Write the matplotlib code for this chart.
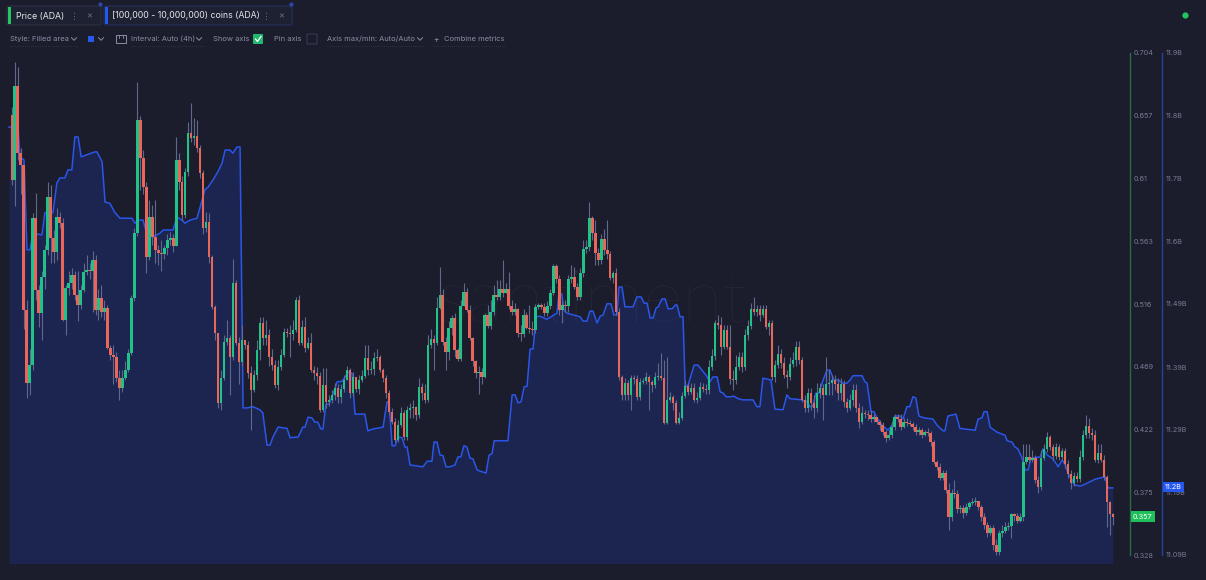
import matplotlib
matplotlib.use('Agg')
import matplotlib.pyplot as plt
import matplotlib.transforms as mtransforms
from matplotlib.patches import FancyBboxPatch
from matplotlib.lines import Line2D
import numpy as np

plt.rcParams['font.family'] = ['Inter', 'DejaVu Sans']

# ---------------- data (ADA 4h candles) ----------------
open0 = 0.6574
close = [
0.6088, 0.6791, 0.6290, 0.6200, 0.5115, 0.4570, 0.4704, 0.5803, 0.5265, 0.5093,
0.5362, 0.5564, 0.5960, 0.5654, 0.5549, 0.5810, 0.5766, 0.5040, 0.5280, 0.5318,
0.5377, 0.5228, 0.5153, 0.5265, 0.5399, 0.5414, 0.5407, 0.5489, 0.5115, 0.5205,
0.5100, 0.5130, 0.4831, 0.4779, 0.4763, 0.4607, 0.4532, 0.4607, 0.4666, 0.4794,
0.5205, 0.5692, 0.6536, 0.6252, 0.6035, 0.5511, 0.5810, 0.5661, 0.5564, 0.5542,
0.5534, 0.5579, 0.5639, 0.5654, 0.5594, 0.6237, 0.6073, 0.5825, 0.6147, 0.6440,
0.6402, 0.6417, 0.6327, 0.6140, 0.5729, 0.5773, 0.5511, 0.5138, 0.4944, 0.4420,
0.4607, 0.4876, 0.4906, 0.4763, 0.5318, 0.4869, 0.4726, 0.4891, 0.4854, 0.4644,
0.4517, 0.4629, 0.4816, 0.5018, 0.4906, 0.4929, 0.4763, 0.4704, 0.4555, 0.4688,
0.4779, 0.4951, 0.4944, 0.4936, 0.4966, 0.5190, 0.4869, 0.4988, 0.4831, 0.4869,
0.4666, 0.4644, 0.4621, 0.4367, 0.4555, 0.4427, 0.4442, 0.4480, 0.4532, 0.4464,
0.4525, 0.4592, 0.4666, 0.4495, 0.4614, 0.4525, 0.4592, 0.4621, 0.4756, 0.4666,
0.4673, 0.4756, 0.4763, 0.4666, 0.4607, 0.4495, 0.4352, 0.4277, 0.4143, 0.4255,
0.4345, 0.4166, 0.4367, 0.4382, 0.4389, 0.4330, 0.4539, 0.4495, 0.4442, 0.4854,
0.4898, 0.4869, 0.5130, 0.5228, 0.4876, 0.4801, 0.4981, 0.5055, 0.4816, 0.4748,
0.5145, 0.5250, 0.5115, 0.4906, 0.4734, 0.4644, 0.4651, 0.4614, 0.5078, 0.4996,
0.5100, 0.5228, 0.5213, 0.5272, 0.5243, 0.5272, 0.5145, 0.5100, 0.5122, 0.4944,
0.4936, 0.5078, 0.4981, 0.4973, 0.4966, 0.5138, 0.5153, 0.5138, 0.5093, 0.5145,
0.5243, 0.5444, 0.5347, 0.5115, 0.5153, 0.5145, 0.5347, 0.5362, 0.5287, 0.5213,
0.5392, 0.5571, 0.5586, 0.5803, 0.5692, 0.5542, 0.5489, 0.5646, 0.5564, 0.5534,
0.5355, 0.5392, 0.5100, 0.4614, 0.4480, 0.4570, 0.4480, 0.4607, 0.4599, 0.4464,
0.4577, 0.4584, 0.4614, 0.4577, 0.4555, 0.4614, 0.4621, 0.4607, 0.4270, 0.4442,
0.4464, 0.4420, 0.4270, 0.4307, 0.4472, 0.4547, 0.4502, 0.4532, 0.4442, 0.4457,
0.4539, 0.4525, 0.4517, 0.4688, 0.4771, 0.5018, 0.5003, 0.4838, 0.4966, 0.4838,
0.4599, 0.4592, 0.4688, 0.4763, 0.4688, 0.4929, 0.4996, 0.5122, 0.5100, 0.5122,
0.5078, 0.5122, 0.4988, 0.5018, 0.4614, 0.4704, 0.4786, 0.4719, 0.4629, 0.4614,
0.4711, 0.4741, 0.4838, 0.4741, 0.4442, 0.4382, 0.4495, 0.4420, 0.4382, 0.4495,
0.4532, 0.4480, 0.4562, 0.4570, 0.4592, 0.4562, 0.4495, 0.4562, 0.4427, 0.4382,
0.4442, 0.4517, 0.4382, 0.4277, 0.4345, 0.4337, 0.4330, 0.4299, 0.4314, 0.4277,
0.4255, 0.4203, 0.4158, 0.4181, 0.4240, 0.4314, 0.4299, 0.4240, 0.4277, 0.4270,
0.4262, 0.4240, 0.4203, 0.4218, 0.4181, 0.4203, 0.4196, 0.4128, 0.3978, 0.3941,
0.3859, 0.3896, 0.3769, 0.3566, 0.3747, 0.3739, 0.3626, 0.3634, 0.3597, 0.3642,
0.3672, 0.3679, 0.3687, 0.3642, 0.3566, 0.3507, 0.3448, 0.3485, 0.3358, 0.3305,
0.3448, 0.3463, 0.3492, 0.3500, 0.3589, 0.3574, 0.3537, 0.3566, 0.3978, 0.4015,
0.3993, 0.4008, 0.3844, 0.3792, 0.4008, 0.4075, 0.4165, 0.4090, 0.4023, 0.4090,
0.4015, 0.4061, 0.3963, 0.3888, 0.3822, 0.3873, 0.3851, 0.4015, 0.4181, 0.4248,
0.4196, 0.4181, 0.3993, 0.4046, 0.3993, 0.3866, 0.3679, 0.3589, 0.3570,
]
high = [
0.663, 0.697, 0.693, 0.633, 0.620, 0.519, 0.482, 0.584, 0.599, 0.530,
0.541, 0.560, 0.607, 0.605, 0.571, 0.588, 0.585, 0.580, 0.530, 0.541,
0.543, 0.541, 0.541, 0.530, 0.547, 0.553, 0.547, 0.556, 0.553, 0.527,
0.530, 0.519, 0.515, 0.485, 0.485, 0.480, 0.467, 0.467, 0.473, 0.482,
0.523, 0.573, 0.682, 0.657, 0.631, 0.607, 0.594, 0.590, 0.594, 0.560,
0.564, 0.560, 0.568, 0.570, 0.568, 0.641, 0.629, 0.612, 0.618, 0.652,
0.666, 0.655, 0.654, 0.635, 0.616, 0.585, 0.584, 0.553, 0.515, 0.493,
0.467, 0.493, 0.504, 0.493, 0.550, 0.534, 0.491, 0.500, 0.489, 0.488,
0.470, 0.467, 0.489, 0.506, 0.506, 0.504, 0.497, 0.482, 0.474, 0.474,
0.482, 0.498, 0.498, 0.500, 0.504, 0.521, 0.523, 0.504, 0.506, 0.491,
0.494, 0.470, 0.469, 0.465, 0.468, 0.468, 0.448, 0.452, 0.457, 0.456,
0.456, 0.463, 0.470, 0.468, 0.465, 0.457, 0.463, 0.467, 0.485, 0.485,
0.473, 0.480, 0.482, 0.478, 0.468, 0.463, 0.452, 0.438, 0.431, 0.429,
0.439, 0.437, 0.440, 0.442, 0.444, 0.440, 0.461, 0.457, 0.456, 0.493,
0.497, 0.493, 0.521, 0.544, 0.527, 0.491, 0.503, 0.508, 0.509, 0.483,
0.519, 0.532, 0.528, 0.515, 0.491, 0.474, 0.470, 0.468, 0.509, 0.515,
0.519, 0.530, 0.534, 0.534, 0.549, 0.532, 0.540, 0.519, 0.517, 0.513,
0.500, 0.512, 0.510, 0.515, 0.503, 0.516, 0.517, 0.517, 0.517, 0.518,
0.527, 0.546, 0.546, 0.538, 0.519, 0.519, 0.538, 0.545, 0.544, 0.532,
0.543, 0.564, 0.564, 0.592, 0.582, 0.579, 0.558, 0.568, 0.572, 0.579,
0.556, 0.541, 0.543, 0.513, 0.463, 0.461, 0.459, 0.463, 0.463, 0.463,
0.461, 0.461, 0.465, 0.463, 0.459, 0.465, 0.472, 0.479, 0.474, 0.476,
0.450, 0.448, 0.444, 0.435, 0.450, 0.459, 0.457, 0.457, 0.457, 0.450,
0.458, 0.457, 0.456, 0.474, 0.482, 0.504, 0.508, 0.506, 0.500, 0.500,
0.500, 0.467, 0.478, 0.480, 0.480, 0.497, 0.504, 0.517, 0.521, 0.515,
0.515, 0.515, 0.515, 0.504, 0.504, 0.474, 0.485, 0.482, 0.476, 0.467,
0.476, 0.480, 0.488, 0.488, 0.476, 0.448, 0.453, 0.453, 0.448, 0.457,
0.457, 0.456, 0.476, 0.467, 0.463, 0.463, 0.461, 0.461, 0.459, 0.446,
0.449, 0.456, 0.456, 0.442, 0.440, 0.437, 0.437, 0.437, 0.434, 0.431,
0.429, 0.428, 0.422, 0.422, 0.428, 0.434, 0.434, 0.434, 0.431, 0.431,
0.429, 0.428, 0.426, 0.424, 0.423, 0.422, 0.423, 0.421, 0.414, 0.399,
0.397, 0.392, 0.392, 0.382, 0.378, 0.384, 0.377, 0.366, 0.366, 0.367,
0.369, 0.371, 0.372, 0.369, 0.366, 0.360, 0.353, 0.351, 0.351, 0.340,
0.347, 0.351, 0.353, 0.353, 0.360, 0.360, 0.360, 0.360, 0.411, 0.411,
0.411, 0.407, 0.403, 0.387, 0.407, 0.411, 0.420, 0.418, 0.411, 0.412,
0.411, 0.408, 0.408, 0.399, 0.392, 0.390, 0.390, 0.407, 0.422, 0.433,
0.431, 0.423, 0.422, 0.411, 0.411, 0.403, 0.388, 0.369, 0.360,
]
low = [
0.605, 0.589, 0.624, 0.598, 0.497, 0.446, 0.448, 0.467, 0.519, 0.499,
0.489, 0.527, 0.553, 0.547, 0.547, 0.549, 0.573, 0.503, 0.493, 0.523,
0.527, 0.519, 0.503, 0.512, 0.525, 0.538, 0.535, 0.510, 0.508, 0.504,
0.506, 0.504, 0.482, 0.474, 0.456, 0.458, 0.444, 0.450, 0.459, 0.465,
0.478, 0.518, 0.567, 0.601, 0.598, 0.539, 0.549, 0.560, 0.547, 0.545,
0.541, 0.550, 0.553, 0.560, 0.555, 0.562, 0.601, 0.579, 0.580, 0.612,
0.637, 0.635, 0.630, 0.610, 0.568, 0.570, 0.547, 0.512, 0.489, 0.438,
0.437, 0.459, 0.485, 0.448, 0.474, 0.485, 0.456, 0.470, 0.482, 0.461,
0.422, 0.450, 0.459, 0.474, 0.485, 0.485, 0.470, 0.467, 0.453, 0.452,
0.467, 0.476, 0.491, 0.476, 0.489, 0.495, 0.485, 0.485, 0.480, 0.482,
0.465, 0.459, 0.456, 0.435, 0.435, 0.438, 0.440, 0.442, 0.444, 0.442,
0.442, 0.450, 0.461, 0.446, 0.447, 0.450, 0.449, 0.458, 0.461, 0.463,
0.464, 0.463, 0.473, 0.465, 0.458, 0.446, 0.433, 0.426, 0.413, 0.413,
0.424, 0.414, 0.414, 0.431, 0.431, 0.429, 0.431, 0.444, 0.442, 0.443,
0.483, 0.467, 0.485, 0.512, 0.485, 0.467, 0.474, 0.493, 0.476, 0.473,
0.473, 0.515, 0.510, 0.489, 0.470, 0.461, 0.449, 0.456, 0.461, 0.498,
0.497, 0.508, 0.519, 0.519, 0.521, 0.524, 0.512, 0.508, 0.508, 0.491,
0.488, 0.491, 0.497, 0.494, 0.493, 0.494, 0.512, 0.512, 0.507, 0.507,
0.512, 0.523, 0.532, 0.508, 0.502, 0.510, 0.510, 0.532, 0.527, 0.519,
0.519, 0.536, 0.554, 0.556, 0.564, 0.545, 0.545, 0.546, 0.553, 0.550,
0.534, 0.532, 0.508, 0.459, 0.444, 0.444, 0.444, 0.437, 0.456, 0.444,
0.444, 0.456, 0.456, 0.437, 0.450, 0.453, 0.459, 0.459, 0.426, 0.426,
0.443, 0.437, 0.426, 0.426, 0.429, 0.446, 0.448, 0.449, 0.443, 0.442,
0.444, 0.450, 0.449, 0.449, 0.467, 0.474, 0.497, 0.478, 0.482, 0.482,
0.456, 0.452, 0.456, 0.467, 0.465, 0.467, 0.489, 0.497, 0.508, 0.507,
0.503, 0.506, 0.497, 0.493, 0.459, 0.458, 0.468, 0.468, 0.461, 0.453,
0.459, 0.469, 0.470, 0.471, 0.443, 0.435, 0.435, 0.437, 0.431, 0.435,
0.446, 0.429, 0.448, 0.448, 0.448, 0.452, 0.444, 0.444, 0.439, 0.435,
0.437, 0.440, 0.435, 0.423, 0.426, 0.431, 0.429, 0.428, 0.428, 0.426,
0.422, 0.418, 0.413, 0.414, 0.416, 0.422, 0.428, 0.422, 0.423, 0.425,
0.425, 0.422, 0.418, 0.418, 0.416, 0.417, 0.417, 0.410, 0.396, 0.392,
0.384, 0.384, 0.375, 0.347, 0.354, 0.371, 0.360, 0.360, 0.356, 0.358,
0.363, 0.366, 0.366, 0.362, 0.354, 0.348, 0.342, 0.343, 0.332, 0.328,
0.328, 0.342, 0.345, 0.347, 0.341, 0.354, 0.352, 0.353, 0.354, 0.396,
0.397, 0.398, 0.382, 0.375, 0.377, 0.399, 0.405, 0.407, 0.399, 0.400,
0.399, 0.399, 0.393, 0.386, 0.378, 0.380, 0.383, 0.383, 0.399, 0.416,
0.416, 0.414, 0.398, 0.397, 0.398, 0.384, 0.349, 0.343, 0.351,
]

# holders [100,000 - 10,000,000) coins: total ADA held (billions), sampled in candle-index time
hold_t = [
-0.9, 2.1, 2.8, 4.1, 5.1, 6.1, 7.1, 10.1, 11.1, 13.8, 15.1, 16.1, 17.8, 18.8, 20.1, 21.1, 22.2, 23.2, 27.8, 28.5,
30.2, 31.2, 32.8, 34.5, 36.2, 40.2, 41.2, 42.2, 43.9, 45.2, 47.2, 49.6, 50.6, 53.9, 55.2, 56.9, 57.9, 59.6, 61.9, 63.6,
64.6, 65.6, 67.3, 68.9, 70.3, 71.3, 72.9, 73.9, 75.3, 76.3, 77.3, 78.6, 80.6, 82.9, 83.9, 85.3, 86.3, 87.3, 89.0, 92.0,
93.0, 95.7, 97.3, 98.0, 99.0, 100.3, 101.3, 102.3, 103.3, 104.0, 105.0, 106.0, 107.3, 108.7, 110.4, 111.4, 112.4, 113.7, 114.7, 118.0,
119.0, 120.7, 124.1, 125.4, 126.1, 127.1, 128.1, 129.1, 130.4, 131.4, 132.1, 133.1, 137.4, 138.8, 140.4, 141.1, 142.1, 143.1, 144.1, 145.1,
146.4, 148.1, 149.1, 150.1, 151.1, 152.1, 153.1, 154.1, 155.5, 156.5, 158.5, 159.5, 160.5, 161.2, 165.8, 167.2, 168.2, 169.2, 170.2, 171.2,
172.2, 173.2, 174.2, 175.2, 176.5, 178.8, 180.2, 182.2, 182.8, 183.8, 184.5, 185.5, 189.9, 190.9, 192.2, 193.2, 194.2, 195.6, 196.6, 197.6,
198.9, 200.2, 201.2, 202.2, 202.9, 203.9, 204.9, 207.6, 208.9, 210.3, 211.3, 212.3, 213.3, 214.3, 215.3, 216.0, 217.3, 218.3, 219.3, 220.7,
221.7, 222.3, 223.3, 224.3, 225.0, 226.0, 227.0, 228.0, 229.3, 230.6, 232.0, 233.3, 234.3, 235.7, 236.7, 237.7, 238.7, 240.0, 241.3, 242.7,
244.3, 247.7, 249.0, 250.0, 251.0, 253.7, 255.0, 257.7, 259.0, 260.0, 264.0, 265.7, 266.7, 267.7, 268.7, 269.7, 271.1, 272.4, 273.4, 274.7,
276.1, 277.7, 279.1, 280.1, 281.1, 284.1, 285.1, 285.8, 287.1, 288.1, 289.1, 290.8, 292.8, 294.1, 295.1, 296.8, 297.8, 299.1, 300.1, 301.1,
302.1, 303.1, 304.8, 307.8, 309.2, 311.2, 311.8, 312.8, 315.5, 316.8, 321.9, 322.9, 324.2, 324.9, 325.9, 326.9, 329.2, 330.2, 331.9, 332.6,
334.2, 335.2, 336.2, 337.6, 338.6, 339.6, 340.6, 343.6, 344.6, 346.0, 347.6, 348.6, 349.6, 351.0, 352.0, 353.0, 354.3, 355.0, 357.0, 358.6,
360.3, 362.0, 363.6, 365.3, 366.3, 367.9,
]
hold_b = [
11.780, 11.780, 11.732, 11.727, 11.582, 11.582, 11.609, 11.606, 11.642, 11.642, 11.690, 11.698, 11.698, 11.711, 11.711, 11.764, 11.764, 11.732, 11.740, 11.740,
11.724, 11.659, 11.657, 11.642, 11.633, 11.633, 11.625, 11.630, 11.630, 11.606, 11.603, 11.609, 11.614, 11.614, 11.635, 11.630, 11.625, 11.630, 11.633, 11.662,
11.679, 11.683, 11.695, 11.708, 11.722, 11.743, 11.743, 11.738, 11.748, 11.748, 11.327, 11.327, 11.329, 11.324, 11.319, 11.267, 11.267, 11.280, 11.296, 11.294,
11.279, 11.280, 11.296, 11.296, 11.312, 11.311, 11.304, 11.304, 11.293, 11.293, 11.333, 11.333, 11.348, 11.369, 11.370, 11.377, 11.385, 11.383, 11.317, 11.317,
11.290, 11.293, 11.296, 11.337, 11.335, 11.266, 11.266, 11.280, 11.279, 11.264, 11.264, 11.235, 11.232, 11.241, 11.241, 11.272, 11.272, 11.251, 11.250, 11.232,
11.232, 11.235, 11.248, 11.248, 11.266, 11.264, 11.246, 11.245, 11.227, 11.225, 11.222, 11.251, 11.253, 11.274, 11.274, 11.348, 11.348, 11.335, 11.337, 11.361,
11.362, 11.422, 11.422, 11.474, 11.475, 11.470, 11.474, 11.480, 11.511, 11.511, 11.485, 11.480, 11.474, 11.467, 11.467, 11.483, 11.483, 11.464, 11.475, 11.477,
11.495, 11.495, 11.477, 11.477, 11.522, 11.522, 11.490, 11.490, 11.506, 11.506, 11.496, 11.496, 11.472, 11.472, 11.488, 11.490, 11.503, 11.503, 11.487, 11.487,
11.493, 11.493, 11.474, 11.474, 11.361, 11.364, 11.380, 11.396, 11.396, 11.388, 11.380, 11.369, 11.377, 11.377, 11.353, 11.351, 11.345, 11.345, 11.346, 11.342,
11.340, 11.340, 11.329, 11.329, 11.375, 11.372, 11.325, 11.324, 11.348, 11.342, 11.340, 11.337, 11.329, 11.330, 11.351, 11.351, 11.372, 11.388, 11.388, 11.372,
11.372, 11.367, 11.367, 11.372, 11.379, 11.379, 11.369, 11.367, 11.321, 11.321, 11.311, 11.299, 11.291, 11.299, 11.314, 11.314, 11.309, 11.329, 11.329, 11.345,
11.343, 11.314, 11.311, 11.309, 11.299, 11.290, 11.290, 11.314, 11.317, 11.294, 11.291, 11.309, 11.311, 11.321, 11.321, 11.296, 11.288, 11.286, 11.283, 11.274,
11.272, 11.264, 11.261, 11.246, 11.227, 11.227, 11.246, 11.248, 11.261, 11.251, 11.246, 11.240, 11.232, 11.243, 11.235, 11.221, 11.211, 11.203, 11.201, 11.204,
11.208, 11.212, 11.214, 11.216, 11.198, 11.198,
]

price_ticks = [0.704, 0.657, 0.61, 0.563, 0.516, 0.469, 0.422, 0.375, 0.328]
price_tick_labels = ['0.704', '0.657', '0.61', '0.563', '0.516', '0.469', '0.422', '0.375', '0.328']
hold_ticks = [11.9, 11.799, 11.697, 11.596, 11.495, 11.393, 11.292, 11.191, 11.09]
hold_tick_labels = ['11.9B', '11.8B', '11.7B', '11.6B', '11.49B', '11.39B', '11.29B', '11.19B', '11.09B']
last_price_label = '0.357'
last_hold_label = '11.2B'
last_price = 0.357
last_hold = 11.2

# ---------------- styling ----------------
W, H = 1206, 580
BG = '#1b1d2c'
UP = '#21c287'
DOWN = '#e8665a'
WICK = '#62688a'
FILL = '#1c2450'
LINE = '#2a56ea'
TXT = '#8a8fa4'

fig = plt.figure(figsize=(W / 100, H / 100), dpi=100, facecolor=BG)


def fx(px):
    return px / W


def fy(py):
    return 1 - py / H


L, R, T, B = 5, 1125, 45, 563
ax = fig.add_axes([fx(L), fy(B), (R - L) / W, (B - T) / H])
ax2 = ax.twinx()
ax.set_zorder(3)
ax2.set_zorder(2)
ax.patch.set_visible(False)
ax2.patch.set_visible(False)

n = min(len(close), len(high), len(low))
c = np.array(close[:n])
o = np.array([open0] + close[:n - 1])
hi = np.maximum(np.array(high[:n]), np.maximum(o, c))
lo = np.minimum(np.array(low[:n]), np.minimum(o, c))
t = np.arange(n)
colors = np.where(c >= o, UP, DOWN)

ax.vlines(t, lo, hi, color=WICK, linewidth=0.8, zorder=2)
body_h = np.maximum(np.abs(c - o), 0.0008)
ax.bar(t, body_h, bottom=np.minimum(o, c), width=0.8, color=colors, linewidth=0, zorder=3)

ax2.fill_between(hold_t, hold_b, 10.9, color=FILL, linewidth=0, zorder=1)
ax2.plot(hold_t, hold_b, color=LINE, linewidth=1.1, zorder=3, solid_joinstyle='round')

# watermark
ax2.text(0.525, (B - 322) / (B - T), 'santiment', transform=ax2.transAxes, ha='center', va='baseline',
         fontsize=54, color='white', alpha=0.05, family=['Lato', 'DejaVu Sans'], fontweight='light', zorder=2)

ax.set_xlim((L - 11.7) / 2.993, (R - 11.7) / 2.993)
ax.set_ylim(0.7434 - 0.000748 * B, 0.7434 - 0.000748 * T)
ax2.set_ylim(11.985 - 0.001613 * B, 11.985 - 0.001613 * T)

for a in (ax, ax2):
    for s in ('top', 'left', 'bottom'):
        a.spines[s].set_visible(False)
    a.set_xticks([])
    a.tick_params(axis='y', length=0, pad=2.6, labelsize=5.2, labelcolor='#777c92')

ax.yaxis.tick_right()
ax.spines['right'].set_position(('axes', (1130 - L) / (R - L)))
ax.spines['right'].set_bounds(0.328, 0.704)
ax.spines['right'].set_color('#2a6a46')
ax.spines['right'].set_linewidth(1.0)
ax.set_yticks(price_ticks)
ax.set_yticklabels(price_tick_labels)

ax2.spines['right'].set_position(('axes', (1162 - L) / (R - L)))
ax2.spines['right'].set_bounds(11.09, 11.9)
ax2.spines['right'].set_color('#25429c')
ax2.spines['right'].set_linewidth(1.0)
ax2.set_yticks(hold_ticks)
ax2.set_yticklabels(hold_tick_labels)

# current value tags
tr1 = mtransforms.blended_transform_factory(ax.transAxes, ax.transData)
ax.text((1133 - L) / (R - L), last_price, last_price_label, transform=tr1, ha='left', va='center',
        fontsize=5.2, color='white', clip_on=False, zorder=10,
        bbox=dict(boxstyle='square,pad=0.3', fc='#1fbf5c', ec='none'))
tr2 = mtransforms.blended_transform_factory(ax2.transAxes, ax2.transData)
ax2.text((1165 - L) / (R - L), last_hold, last_hold_label, transform=tr2, ha='left', va='center',
         fontsize=5.2, color='white', clip_on=False, zorder=10,
         bbox=dict(boxstyle='square,pad=0.3', fc='#2557ef', ec='none'))

# ---------------- toolbar ----------------
def frect(x0, y0, x1, y1, **kw):
    p = FancyBboxPatch((fx(x0), fy(y1)), fx(x1) - fx(x0), fy(y0) - fy(y1), transform=fig.transFigure, **kw)
    fig.patches.append(p)
    return p


def dot(cx, cy, size, color):
    fig.add_artist(Line2D([fx(cx)], [fy(cy)], transform=fig.transFigure, marker='o', markersize=size,
                          markerfacecolor=color, markeredgecolor='none', linestyle='none'))


frect(7, 6, 101, 25, boxstyle='round,pad=0,rounding_size=0.002', fc='#1e2131', ec='#2c3043', lw=0.8)
frect(8, 7, 11, 24, boxstyle='square,pad=0', fc='#22c55e', ec='none')
frect(104, 6, 292, 25, boxstyle='round,pad=0,rounding_size=0.002', fc='#1e2131', ec='#25305e', lw=0.8)
frect(105, 7, 108, 24, boxstyle='square,pad=0', fc='#2659f0', ec='none')
for cx in (100, 291):
    dot(cx, 4, 3, '#2b48a8')

fig.text(fx(16), fy(16), 'Price (ADA)', fontsize=6.3, color='#e4e6ee', va='center', ha='left')
fig.text(fx(112), fy(16), '[100,000 - 10,000,000) coins (ADA)', fontsize=6.3, color='#e4e6ee', va='center', ha='left')
for xx in (75, 266):
    fig.text(fx(xx), fy(16), '⋮', fontsize=6.5, color='#6a6f84', va='center', ha='center')
for xx in (89, 281):
    fig.text(fx(xx), fy(16), '×', fontsize=6.5, color='#6a6f84', va='center', ha='center')

ry = 39
fig.text(fx(10), fy(ry), 'Style: Filled area', fontsize=5.4, color=TXT, va='center', ha='left')
fig.text(fx(131), fy(ry), 'Interval: Auto (4h)', fontsize=5.4, color=TXT, va='center', ha='left')
fig.text(fx(213), fy(ry), 'Show axis', fontsize=5.4, color=TXT, va='center', ha='left')
fig.text(fx(274), fy(ry), 'Pin axis', fontsize=5.4, color=TXT, va='center', ha='left')
fig.text(fx(327), fy(ry), 'Axis max/min: Auto/Auto', fontsize=5.4, color=TXT, va='center', ha='left')
fig.text(fx(436), fy(ry), '+', fontsize=6, color=TXT, va='center', ha='center')
fig.text(fx(444), fy(ry), 'Combine metrics', fontsize=5.4, color=TXT, va='center', ha='left')


def chevron(cx, cy):
    fig.add_artist(Line2D([fx(cx - 2.5), fx(cx), fx(cx + 2.5)], [fy(cy - 1.3), fy(cy + 1.3), fy(cy - 1.3)],
                          transform=fig.transFigure, color=TXT, lw=0.7))


for cxx in (74, 101, 199, 420):
    chevron(cxx, ry)

frect(88, 36, 94, 42, boxstyle='square,pad=0', fc='#2659f0', ec='none')
frect(116, 35, 126, 43, boxstyle='square,pad=0', fc='none', ec=TXT, lw=0.7)
fig.add_artist(Line2D([fx(119), fx(119)], [fy(35), fy(38)], transform=fig.transFigure, color=TXT, lw=0.6))
fig.add_artist(Line2D([fx(123), fx(123)], [fy(35), fy(38)], transform=fig.transFigure, color=TXT, lw=0.6))
frect(253, 34, 263, 44, boxstyle='round,pad=0,rounding_size=0.001', fc='#20b86c', ec='none')
fig.add_artist(Line2D([fx(255.5), fx(257.5), fx(261)], [fy(39), fy(41.5), fy(36.5)],
                      transform=fig.transFigure, color='white', lw=0.9))
frect(307, 34, 317, 44, boxstyle='round,pad=0,rounding_size=0.001', fc='none', ec='#373b50', lw=0.8)

for x0, x1 in ((10, 78), (131, 205), (327, 425), (433, 505)):
    fig.add_artist(Line2D([fx(x0), fx(x1)], [fy(46), fy(46)], transform=fig.transFigure,
                          color='#34384c', lw=0.6, linestyle=(0, (1, 1.5))))

dot(1185, 15, 4.5, '#22c55e')

fig.savefig('out.png', dpi=100, facecolor=BG)
